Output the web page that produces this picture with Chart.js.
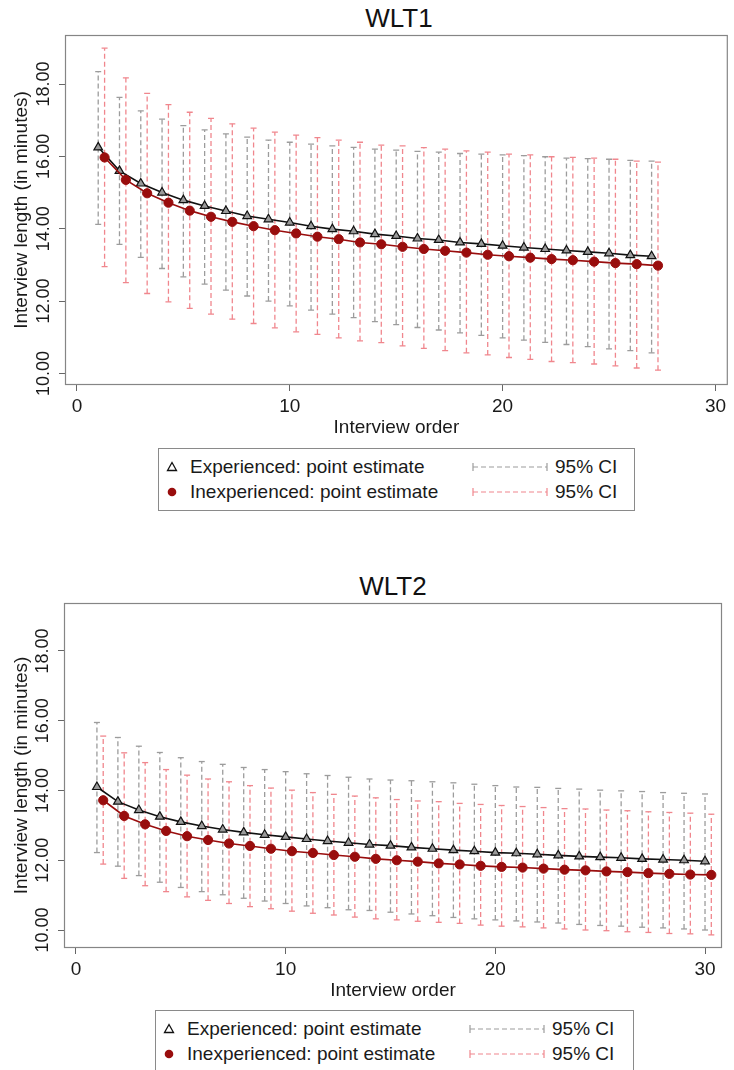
<!DOCTYPE html>
<html>
<head>
<meta charset="utf-8">
<script src="https://cdn.jsdelivr.net/npm/chart.js@4.4.1/dist/chart.umd.min.js"></script>
<style>
body { margin: 0; background: #fff; font-family: "Liberation Sans", Arial, sans-serif; }
#page { position: relative; width: 734px; height: 1070px; overflow: hidden; }
canvas { position: absolute; left: 0; }
.ttl { position: absolute; font-size: 26px; line-height: 30px; text-align: center; color: #111; }
.leg { position: absolute; border: 1px solid #8a8a8a; box-sizing: border-box; background: #fff; }
.leg span { position: absolute; font-size: 19px; line-height: 22px; color: #1a1a1a; white-space: nowrap; }
.leg svg { position: absolute; }
</style>
</head>
<body>
<div id="page">
  <div class="ttl" style="left:65px;width:668px;top:3px">WLT1</div>
  <canvas id="wlt1" width="734" height="440" style="top:0"></canvas>
  <div class="leg" id="leg1" style="left:158px;top:448px;width:477px;height:63px"></div>

  <div class="ttl" style="left:64px;width:658px;top:571px">WLT2</div>
  <canvas id="wlt2" width="734" height="435" style="top:568px"></canvas>
  <div class="leg" id="leg2" style="left:155px;top:1010px;width:479px;height:70px"></div>
</div>

<script>
// tick labels
const xTicks = [0, 10, 20, 30];
const yTicks = [10, 12, 14, 16, 18];

// WLT1
const order1 = [1, 2, 3, 4, 5, 6, 7, 8, 9, 10, 11, 12, 13, 14, 15, 16, 17, 18, 19, 20, 21, 22, 23, 24, 25, 26, 27];
const exp1 = [16.25, 15.60, 15.25, 15.00, 14.79, 14.63, 14.49, 14.35, 14.26, 14.17, 14.07, 13.99, 13.93, 13.85, 13.80, 13.73, 13.69, 13.62, 13.58, 13.53, 13.48, 13.44, 13.40, 13.36, 13.32, 13.27, 13.24];
const expLo1 = [14.12, 13.57, 13.21, 12.90, 12.67, 12.47, 12.30, 12.14, 12.00, 11.87, 11.75, 11.64, 11.54, 11.43, 11.35, 11.27, 11.20, 11.12, 11.05, 10.98, 10.92, 10.86, 10.80, 10.74, 10.68, 10.63, 10.57];
const expHi1 = [18.34, 17.63, 17.26, 17.03, 16.85, 16.73, 16.62, 16.53, 16.45, 16.39, 16.34, 16.29, 16.25, 16.20, 16.17, 16.14, 16.12, 16.08, 16.06, 16.04, 16.02, 15.99, 15.95, 15.94, 15.92, 15.89, 15.87];
const inexp1 = [15.97, 15.35, 14.98, 14.72, 14.50, 14.33, 14.19, 14.07, 13.96, 13.87, 13.78, 13.71, 13.62, 13.57, 13.50, 13.44, 13.39, 13.34, 13.28, 13.24, 13.20, 13.16, 13.13, 13.09, 13.05, 13.02, 12.98];
const inexpLo1 = [12.95, 12.51, 12.21, 11.98, 11.80, 11.64, 11.50, 11.38, 11.26, 11.15, 11.08, 10.98, 10.90, 10.85, 10.76, 10.69, 10.63, 10.57, 10.51, 10.44, 10.39, 10.33, 10.30, 10.26, 10.21, 10.15, 10.09];
const inexpHi1 = [18.99, 18.17, 17.74, 17.43, 17.22, 17.05, 16.90, 16.78, 16.67, 16.59, 16.52, 16.45, 16.39, 16.31, 16.29, 16.24, 16.20, 16.15, 16.12, 16.06, 16.04, 15.99, 15.97, 15.95, 15.92, 15.87, 15.84];

// WLT2
const order2 = [1, 2, 3, 4, 5, 6, 7, 8, 9, 10, 11, 12, 13, 14, 15, 16, 17, 18, 19, 20, 21, 22, 23, 24, 25, 26, 27, 28, 29, 30];
const exp2 = [14.10, 13.68, 13.44, 13.25, 13.10, 12.98, 12.88, 12.80, 12.73, 12.67, 12.61, 12.55, 12.50, 12.45, 12.42, 12.37, 12.33, 12.29, 12.26, 12.22, 12.20, 12.17, 12.14, 12.11, 12.09, 12.07, 12.04, 12.02, 12.00, 11.97];
const expLo2 = [12.22, 11.83, 11.56, 11.37, 11.22, 11.10, 11.01, 10.91, 10.83, 10.76, 10.69, 10.64, 10.58, 10.56, 10.51, 10.46, 10.41, 10.36, 10.32, 10.29, 10.26, 10.23, 10.20, 10.16, 10.13, 10.11, 10.08, 10.06, 10.03, 10.00];
const expHi2 = [15.95, 15.52, 15.27, 15.09, 14.94, 14.83, 14.75, 14.66, 14.60, 14.54, 14.48, 14.43, 14.38, 14.33, 14.30, 14.28, 14.25, 14.22, 14.18, 14.14, 14.10, 14.09, 14.06, 14.04, 14.01, 13.99, 13.97, 13.94, 13.92, 13.90];
const inexp2 = [13.72, 13.27, 13.03, 12.84, 12.69, 12.58, 12.48, 12.41, 12.33, 12.26, 12.21, 12.15, 12.10, 12.04, 12.00, 11.96, 11.91, 11.88, 11.84, 11.81, 11.79, 11.76, 11.73, 11.71, 11.68, 11.66, 11.63, 11.61, 11.59, 11.58];
const inexpLo2 = [11.89, 11.48, 11.27, 11.10, 10.95, 10.85, 10.76, 10.67, 10.61, 10.54, 10.48, 10.43, 10.37, 10.32, 10.29, 10.25, 10.22, 10.19, 10.14, 10.11, 10.09, 10.06, 10.03, 10.00, 9.98, 9.95, 9.93, 9.90, 9.89, 9.86];
const inexpHi2 = [15.56, 15.08, 14.80, 14.60, 14.44, 14.33, 14.25, 14.14, 14.07, 14.01, 13.94, 13.89, 13.84, 13.79, 13.74, 13.70, 13.68, 13.63, 13.60, 13.57, 13.54, 13.51, 13.48, 13.47, 13.44, 13.42, 13.39, 13.37, 13.35, 13.32];

const expColor = '#111111';
const inexpColor = '#990d0d';
const expCiColor = '#9c9c9c';
const inexpCiColor = '#f0868d';

Chart.defaults.font.family = '"Liberation Sans", Arial, sans-serif';
Chart.defaults.color = '#1a1a1a';

// grey box round the plot area
const frame = {
    id: 'frame',
    beforeDatasetsDraw(chart) {
        const a = chart.chartArea, ctx = chart.ctx;
        ctx.save();
        ctx.strokeStyle = '#858585';
        ctx.lineWidth = 1.2;
        ctx.strokeRect(a.left + 0.5, a.top + 0.5, a.right - a.left - 1, a.bottom - a.top - 1);
        ctx.restore();
    }
};

function makeChart(id, o) {
    const dodge = 0.3; // inexperienced drawn a little to the right

    // error bar as line pieces: low, high, gap
    function ciData(lo, hi, shift) {
        let d = [];
        o.order.forEach(function (x, i) {
            d.push({x: x + shift, y: lo[i]}, {x: x + shift, y: hi[i]}, {x: x + shift, y: null});
        });
        return d;
    }

    return new Chart(document.getElementById(id), {
        type: 'line',
        data: {
            datasets: [
                {
                    label: 'Inexperienced: point estimate',
                    data: o.order.map((x, i) => ({x: x + dodge, y: o.inexp[i]})),
                    borderColor: inexpColor,
                    borderWidth: 1.6,
                    pointStyle: 'circle',
                    pointRadius: 4.6,
                    pointBackgroundColor: inexpColor,
                    pointBorderColor: inexpColor,
                    pointBorderWidth: 1,
                    order: 0
                },
                {
                    label: 'Experienced: point estimate',
                    data: o.order.map((x, i) => ({x: x, y: o.exp[i]})),
                    borderColor: expColor,
                    borderWidth: 1.6,
                    pointStyle: 'triangle',
                    pointRadius: 5,
                    pointBackgroundColor: '#9a9a9a',
                    pointBorderColor: expColor,
                    pointBorderWidth: 1.2,
                    order: 1
                },
                {
                    label: '95% CI',
                    data: ciData(o.inexpLo, o.inexpHi, dodge),
                    borderColor: inexpCiColor,
                    borderWidth: 1.3,
                    borderDash: [5, 3],
                    spanGaps: false,
                    pointStyle: 'line',
                    pointRadius: 3,
                    pointBorderColor: inexpCiColor,
                    pointBorderWidth: 1.3,
                    order: 2
                },
                {
                    label: '95% CI',
                    data: ciData(o.expLo, o.expHi, 0),
                    borderColor: expCiColor,
                    borderWidth: 1.3,
                    borderDash: [5, 3],
                    spanGaps: false,
                    pointStyle: 'line',
                    pointRadius: 3,
                    pointBorderColor: expCiColor,
                    pointBorderWidth: 1.3,
                    order: 3
                }
            ]
        },
        options: {
            responsive: false,
            animation: false,
            events: [],
            layout: {padding: {top: 35, left: 0, right: o.right, bottom: 0}},
            plugins: {legend: {display: false}, tooltip: {enabled: false}, title: {display: false}},
            scales: {
                x: {
                    type: 'linear',
                    min: o.xMin,
                    max: o.xMax,
                    afterBuildTicks: s => { s.ticks = xTicks.map(v => ({value: v})); },
                    afterFit: s => { s.height = 55; },
                    grid: {drawOnChartArea: false, tickLength: 6, color: '#666', lineWidth: 1},
                    border: {display: false},
                    ticks: {padding: 4, maxRotation: 0, font: {size: 19}, color: '#1a1a1a'},
                    title: {display: true, text: 'Interview order', font: {size: 19}, color: '#1a1a1a', padding: {top: 0, bottom: 1}}
                },
                y: {
                    min: o.yMin,
                    max: o.yMax,
                    afterBuildTicks: s => { s.ticks = yTicks.map(v => ({value: v})); },
                    afterFit: s => { s.width = o.left; },
                    grid: {drawOnChartArea: false, tickLength: 6, color: '#666', lineWidth: 1},
                    border: {display: false},
                    ticks: {
                        minRotation: 90,
                        maxRotation: 90,
                        crossAlign: 'center',
                        padding: -8,
                        font: {size: 18},
                        color: '#1a1a1a',
                        callback: v => v.toFixed(2)
                    },
                    title: {display: true, text: 'Interview length (in minutes)', font: {size: 19}, color: '#1a1a1a', padding: {top: 10, bottom: 0}}
                }
            }
        },
        plugins: [frame]
    });
}

function buildLegend(el) {
    const dash = (c) => '<svg width="76" height="10"><line x1="1" y1="5" x2="75" y2="5" stroke="' + c + '" stroke-width="1.2" stroke-dasharray="5,3"/>' +
        '<line x1="1" y1="1" x2="1" y2="9" stroke="' + c + '" stroke-width="1.2"/><line x1="75" y1="1" x2="75" y2="9" stroke="' + c + '" stroke-width="1.2"/></svg>';
    el.innerHTML =
        '<svg width="12" height="12" style="left:7px;top:12px"><polygon points="6,1.5 10.5,9.5 1.5,9.5" fill="#fff" stroke="#111" stroke-width="1.3"/></svg>' +
        '<span style="left:31px;top:7px">Experienced: point estimate</span>' +
        '<div style="position:absolute;left:313px;top:13px">' + dash(expCiColor) + '</div>' +
        '<span style="left:396px;top:7px">95% CI</span>' +
        '<svg width="12" height="12" style="left:7px;top:37px"><circle cx="6" cy="6" r="4.3" fill="' + inexpColor + '"/></svg>' +
        '<span style="left:31px;top:32px">Inexperienced: point estimate</span>' +
        '<div style="position:absolute;left:313px;top:38px">' + dash(inexpCiColor) + '</div>' +
        '<span style="left:396px;top:32px">95% CI</span>';
}

makeChart('wlt1', {
    order: order1, exp: exp1, expLo: expLo1, expHi: expHi1,
    inexp: inexp1, inexpLo: inexpLo1, inexpHi: inexpHi1,
    xMin: -0.56, xMax: 30.58, yMin: 9.68, yMax: 19.355, left: 65, right: 1
});
makeChart('wlt2', {
    order: order2, exp: exp2, expLo: expLo2, expHi: expHi2,
    inexp: inexp2, inexpLo: inexpLo2, inexpHi: inexpHi2,
    xMin: -0.57, xMax: 30.81, yMin: 9.484, yMax: 19.376, left: 64, right: 12
});

buildLegend(document.getElementById('leg1'));
buildLegend(document.getElementById('leg2'));
</script>
</body>
</html>
